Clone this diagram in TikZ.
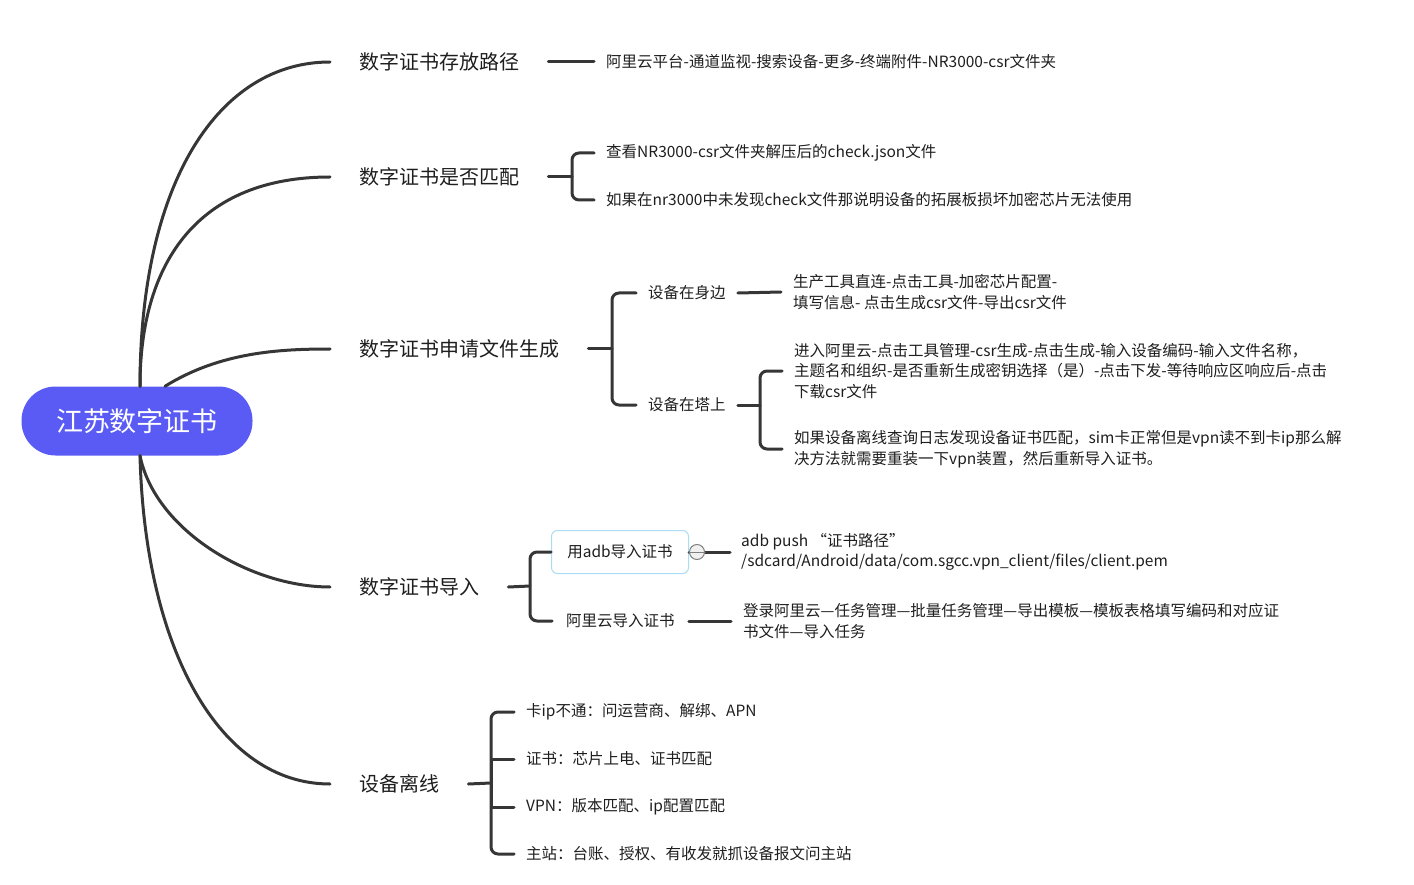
\documentclass[tikz,border=0pt]{standalone}
\usepackage{fontspec}
\setmainfont{Noto Sans CJK SC}
\usetikzlibrary{arrows}

\definecolor{rootblue}{RGB}{90,91,245}
\definecolor{linegray}{RGB}{54,54,54}
\definecolor{textgray}{RGB}{30,30,30}
\definecolor{boxblue}{RGB}{170,220,245}

\begin{document}
\begin{tikzpicture}[
            x = 1pt, y = -1pt, % one unit = one pixel, y downwards
            line cap = round,
            text = textgray
        ]

        \useasboundingbox (0,0) rectangle (1414,885);

        \tikzstyle{link}=[draw = linegray, line width = 3pt]
        \tikzstyle{root}=[
        fill = rootblue,
        rounded corners = 34pt,
        minimum width = 231pt,
        minimum height = 69pt,
        text = white,
        font = \fontsize{27}{30}\selectfont
        ]
        \tikzstyle{branch}=[anchor = west, inner xsep = 29pt, font = \fontsize{20}{24}\selectfont]
        \tikzstyle{sub}=[anchor = west, inner xsep = 12pt, font = \fontsize{15.5}{20}\selectfont]
        \tikzstyle{leaf}=[anchor = west, inner xsep = 12pt, align = left, font = \fontsize{15.5}{20.5}\selectfont]

        % centre
        \node[root] (root) at (137,421) {江苏数字证书};

        % main branches
        \node[branch] (b1) at (330,62) {数字证书存放路径};
        \node[branch] (b2) at (330,177) {数字证书是否匹配};
        \node[branch] (b3) at (330,349) {数字证书申请文件生成};
        \node[branch] (b4) at (330,587) {数字证书导入};
        \node[branch] (b5) at (330,784) {设备离线};

        \draw[link] ([xshift=3pt]root.north) .. controls (140,180) and (220,62) .. (b1.west);
        \draw[link] ([xshift=3pt]root.north) .. controls (140,260) and (200,177) .. (b2.west);
        \draw[link] ([xshift=28pt]root.north) .. controls (220,352) and (280,349) .. (b3.west);
        \draw[link] ([xshift=3pt]root.south) .. controls (155,530) and (250,587) .. (b4.west);
        \draw[link] ([xshift=3pt]root.south) .. controls (145,650) and (220,784) .. (b5.west);

        % 1
        \node[leaf] (l1) at (594,62) {阿里云平台-通道监视-搜索设备-更多-终端附件-NR3000-csr文件夹};
        \draw[link] (b1.east) -- (l1.west);

        % 2
        \node[leaf] (l21) at (594,153) {查看NR3000-csr文件夹解压后的check.json文件};
        \node[leaf] (l22) at (594,200) {如果在nr3000中未发现check文件那说明设备的拓展板损坏加密芯片无法使用};
        \coordinate (j2) at (572,177);
        \draw[link] (b2.east) -- (j2);
        \draw[link, rounded corners = 7pt] (l21.west) -| (j2) |- (l22.west);

        % 3
        \node[sub] (s31) at (636,293) {设备在身边};
        \node[sub] (s32) at (636,405) {设备在塔上};
        \coordinate (j3) at (612,349);
        \draw[link] (b3.east) -- (j3);
        \draw[link, rounded corners = 7pt] (s31.west) -| (j3) |- (s32.west);

        \node[leaf] (l31) at (781,292) {生产工具直连-点击工具-加密芯片配置-\\填写信息- 点击生成csr文件-导出csr文件};
        \draw[link] (s31.east) -- (l31.west);

        \node[leaf] (l321) at (782,371) {进入阿里云-点击工具管理-csr生成-点击生成-输入设备编码-输入文件名称，\\主题名和组织-是否重新生成密钥选择（是）-点击下发-等待响应区响应后-点击\\下载csr文件};
        \node[leaf] (l322) at (782,449) {如果设备离线查询日志发现设备证书匹配，sim卡正常但是vpn读不到卡ip那么解\\决方法就需要重装一下vpn装置，然后重新导入证书。};
        \coordinate (j32) at (760,405);
        \draw[link] (s32.east) -- (j32);
        \draw[link, rounded corners = 7pt] (l321.west) -| (j32) |- (l322.west);

        % 4
        \node[sub, draw = boxblue, line width = 1pt, rounded corners = 6pt,
              minimum width = 137pt, minimum height = 43pt, inner xsep = 14pt] (s41) at (551,552) {用adb导入证书};
        \node[sub, inner xsep = 14pt] (s42) at (552,621) {阿里云导入证书};
        \coordinate (j4) at (530,586);
        \draw[link] (b4.east) -- (j4);
        \draw[link, rounded corners = 7pt] (s41.west) -| (j4) |- (s42.west);

        \node[leaf, inner xsep = 11pt] (l41) at (730,552) {adb push “证书路径”\\/sdcard/Android/data/com.sgcc.vpn\_client/files/client.pem};
        \draw[link] (s41.east) -- (l41.west);
        \node[circle, draw = gray, fill = black!6, line width = 1pt, minimum size = 15pt, inner sep = 0pt] (fold) at (697,552) {};
        \draw[gray, line width = 1pt] (fold.west) -- (fold.east);

        \node[leaf] (l42) at (731,621) {登录阿里云—任务管理—批量任务管理—导出模板—模板表格填写编码和对应证\\书文件—导入任务};
        \draw[link] (s42.east) -- (l42.west);

        % 5
        \node[leaf] (l51) at (514,712) {卡ip不通：问运营商、解绑、APN};
        \node[leaf] (l52) at (514,759) {证书：芯片上电、证书匹配};
        \node[leaf] (l53) at (514,807) {VPN：版本匹配、ip配置匹配};
        \node[leaf] (l54) at (514,854) {主站：台账、授权、有收发就抓设备报文问主站};
        \coordinate (j5) at (491,783);
        \draw[link] (b5.east) -- (j5);
        \draw[link, rounded corners = 7pt] (l51.west) -| (j5) |- (l54.west);
        \draw[link] (j5) |- (l52.west);
        \draw[link] (j5) |- (l53.west);
    \end{tikzpicture}
\end{document}
